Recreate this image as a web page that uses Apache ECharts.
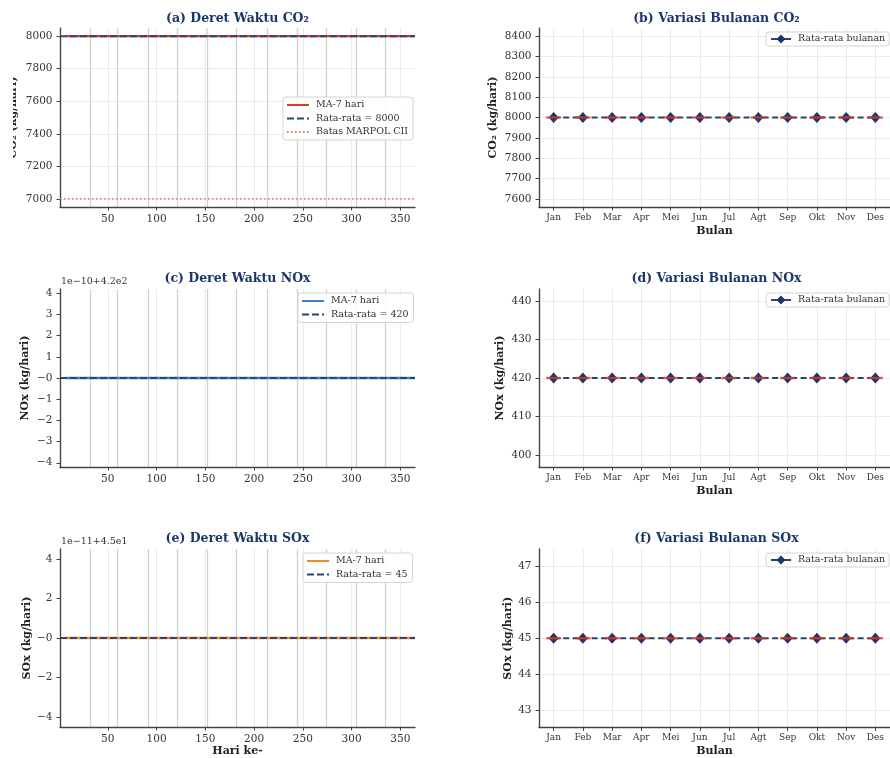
<!DOCTYPE html>
<html>
<head>
<meta charset="utf-8">
<script src="https://cdn.jsdelivr.net/npm/echarts@6/dist/echarts.min.js"></script>
<style>
  html, body { margin: 0; padding: 0; background: #ffffff; }
  #chart { width: 890px; height: 758px; }
</style>
</head>
<body>
<div id="chart"></div>
<script>
// ---- data ----
const dayRange = [1, 365];                 // observation period (day of year)
const maDays = [7, 365];                   // first / last day with a full 7-day window
const co2MA = [8000, 8000];
const noxMA = [420, 420];
const soxMA = [45, 45];
const co2Mean = 8000;
const noxMean = 420;
const soxMean = 45;
const marpolLimit = 7000;
// first day of each month (Feb..Dec)
const monthStarts = [32, 60, 91, 121, 152, 182, 213, 244, 274, 305, 335];

const months = ['Jan', 'Feb', 'Mar', 'Apr', 'Mei', 'Jun', 'Jul', 'Agt', 'Sep', 'Okt', 'Nov', 'Des'];
const co2Monthly = [8000, 8000, 8000, 8000, 8000, 8000, 8000, 8000, 8000, 8000, 8000, 8000];
const noxMonthly = [420, 420, 420, 420, 420, 420, 420, 420, 420, 420, 420, 420];
const soxMonthly = [45, 45, 45, 45, 45, 45, 45, 45, 45, 45, 45, 45];

// tick labels
const dayTicks = [50, 100, 150, 200, 250, 300, 350];
const co2Ticks = [7000, 7200, 7400, 7600, 7800, 8000];
const noxOffsetTicks = [-4, -3, -2, -1, 0, 1, 2, 3, 4];   // units of 1e-10, offset 4.2e2
const soxOffsetTicks = [-4, -2, 0, 2, 4];                  // units of 1e-11, offset 4.5e1
const co2MonthTicks = [7600, 7700, 7800, 7900, 8000, 8100, 8200, 8300, 8400];
const noxMonthTicks = [400, 410, 420, 430, 440];
const soxMonthTicks = [43, 44, 45, 46, 47];

const noxBase = 420, noxScale = 1e-10;
const soxBase = 45, soxScale = 1e-11;
const noxTicks = noxOffsetTicks.map(k => noxBase + k * noxScale);
const soxTicks = soxOffsetTicks.map(k => soxBase + k * soxScale);

// ---- styles ----
const SERIF = "'DejaVu Serif', 'Liberation Serif', serif";
const NAVY = '#1b3668';
const MEAN = '#2a4475';
const RED = '#da3b2b';
const BLUE = '#3a83c9';
const ORANGE = '#ef8a2a';
const AXIS = '#444444';
const GRID = '#ebebeb';
const MONTHLINE = '#cbd6d3';

const pairXY = (xs, ys) => xs.map((x, i) => [x, ys[i]]);
const constLine = (xs, v) => xs.map(x => [x, v]);
const minusFmt = k => (k <= 0 ? '\u2212' + Math.abs(k) : String(k));

const grids = [
  { left: 60, top: 28, width: 355, height: 179 },    // a
  { left: 539, top: 28, width: 355, height: 179 },   // b
  { left: 60, top: 289, width: 355, height: 178 },   // c
  { left: 539, top: 289, width: 355, height: 178 },  // d
  { left: 60, top: 549, width: 355, height: 180 },   // e
  { left: 539, top: 549, width: 355, height: 180 }   // f
];

const axisLineStyle = { show: true, lineStyle: { color: AXIS, width: 1.4 } };
const tickStyle = (vals) => ({ show: true, length: 3.5, lineStyle: { color: AXIS, width: 1 }, customValues: vals });

function dayAxis(gi, name) {
  return {
    type: 'value', gridIndex: gi, min: dayRange[0], max: dayRange[1],
    axisLine: axisLineStyle, axisTick: tickStyle(dayTicks),
    axisLabel: { customValues: dayTicks, fontFamily: SERIF, fontSize: 10.5, color: '#333', margin: 7 },
    splitLine: { show: false },
    name: name || '', nameLocation: 'middle', nameGap: 19,
    nameTextStyle: { fontFamily: SERIF, fontWeight: 'bold', fontSize: 11, color: '#222' }
  };
}
function monthAxis(gi) {
  return {
    type: 'category', gridIndex: gi, data: months, boundaryGap: true,
    axisLine: axisLineStyle,
    axisTick: { show: true, alignWithLabel: true, length: 3.5, lineStyle: { color: AXIS, width: 1 } },
    axisLabel: { fontFamily: SERIF, fontSize: 9, color: '#333', margin: 6, interval: 0 },
    splitLine: { show: false },
    name: 'Bulan', nameLocation: 'middle', nameGap: 18.5,
    nameTextStyle: { fontFamily: SERIF, fontWeight: 'bold', fontSize: 11, color: '#222' }
  };
}
function valAxis(gi, min, max, ticks, name, gap, fmt) {
  return {
    type: 'value', gridIndex: gi, min: min, max: max, scale: true,
    axisLine: axisLineStyle, axisTick: tickStyle(ticks),
    axisLabel: { customValues: ticks, fontFamily: SERIF, fontSize: 10.5, color: '#333', margin: 7.5, formatter: fmt },
    splitLine: { show: false },
    name: name, nameLocation: 'middle', nameGap: gap,
    nameTextStyle: { fontFamily: SERIF, fontWeight: 'bold', fontSize: 11, color: '#222' }
  };
}

const xAxes = [
  dayAxis(0), monthAxis(1), dayAxis(2), monthAxis(3), dayAxis(4, 'Hari ke-'), monthAxis(5)
];
const yAxes = [
  valAxis(0, 6950, 8050, co2Ticks, 'CO\u2082 (kg/hari)', 41, v => String(v)),
  valAxis(1, 7560, 8440, co2MonthTicks, 'CO\u2082 (kg/hari)', 40.5, v => String(v)),
  valAxis(2, noxBase - 4.2 * noxScale, noxBase + 4.2 * noxScale, noxTicks, 'NOx (kg/hari)', 29.5,
    v => minusFmt(Math.round((v - noxBase) / noxScale))),
  valAxis(3, 396.9, 443.1, noxMonthTicks, 'NOx (kg/hari)', 33.5, v => String(v)),
  valAxis(4, soxBase - 4.5 * soxScale, soxBase + 4.5 * soxScale, soxTicks, 'SOx (kg/hari)', 27.5,
    v => minusFmt(Math.round((v - soxBase) / soxScale))),
  valAxis(5, 42.525, 47.475, soxMonthTicks, 'SOx (kg/hari)', 25.5, v => String(v))
];

// background grid lines for one panel
function gridSeries(gi, yTicks, xVals, withMonths) {
  const lines = [];
  yTicks.forEach(v => lines.push({ yAxis: v, lineStyle: { color: GRID, width: 1, type: 'solid' } }));
  xVals.forEach(v => lines.push({ xAxis: v, lineStyle: { color: GRID, width: 1, type: 'solid' } }));
  if (withMonths) {
    monthStarts.forEach(v => lines.push({ xAxis: v, lineStyle: { color: MONTHLINE, width: 1.3, type: 'solid' } }));
  }
  return {
    type: 'line', xAxisIndex: gi, yAxisIndex: gi, data: [], silent: true, z: 0,
    markLine: { silent: true, symbol: 'none', z: 0, label: { show: false }, animation: false, data: lines }
  };
}

function maSeries(gi, name, ma, color) {
  return {
    type: 'line', name: name, xAxisIndex: gi, yAxisIndex: gi, data: pairXY(maDays, ma),
    symbol: 'none', z: 3, lineStyle: { color: color, width: 2.4 }, itemStyle: { color: color }
  };
}
function meanSeries(gi, name, mean) {
  return {
    type: 'line', name: name, xAxisIndex: gi, yAxisIndex: gi, data: constLine(dayRange, mean),
    symbol: 'none', z: 4, lineStyle: { color: MEAN, width: 2, type: [7, 3] }, itemStyle: { color: MEAN }
  };
}
function monthlySeries(gi, name, vals) {
  return [
    {
      type: 'line', name: name, xAxisIndex: gi, yAxisIndex: gi, data: vals,
      symbol: 'diamond', symbolSize: [10, 11], showSymbol: true, z: 4,
      lineStyle: { color: MEAN, width: 2, type: [6, 3.5] }, itemStyle: { color: NAVY }
    },
    {
      // zero-spread error caps
      type: 'scatter', xAxisIndex: gi, yAxisIndex: gi, data: vals, symbol: 'rect',
      symbolSize: [15, 2.4], z: 5, itemStyle: { color: RED }, silent: true
    }
  ];
}

const series = [
  gridSeries(0, co2Ticks, dayTicks, true),
  gridSeries(1, co2MonthTicks, months, false),
  gridSeries(2, noxTicks, dayTicks, true),
  gridSeries(3, noxMonthTicks, months, false),
  gridSeries(4, soxTicks, dayTicks, true),
  gridSeries(5, soxMonthTicks, months, false),

  maSeries(0, 'ma_co2', co2MA, RED),
  meanSeries(0, 'mean_co2', co2Mean),
  {
    type: 'line', name: 'marpol', xAxisIndex: 0, yAxisIndex: 0, data: constLine(dayRange, marpolLimit),
    symbol: 'none', z: 3, lineStyle: { color: '#e9776b', width: 1.5, type: [1.6, 2.4] }, itemStyle: { color: '#e9776b' }
  },
  maSeries(2, 'ma_nox', noxMA, BLUE),
  meanSeries(2, 'mean_nox', noxMean),
  maSeries(4, 'ma_sox', soxMA, ORANGE),
  meanSeries(4, 'mean_sox', soxMean),
  ...monthlySeries(1, 'mon_co2', co2Monthly),
  ...monthlySeries(3, 'mon_nox', noxMonthly),
  ...monthlySeries(5, 'mon_sox', soxMonthly)
];

const legendText = {
  ma_co2: 'MA-7 hari', mean_co2: 'Rata-rata = ' + co2Mean, marpol: 'Batas MARPOL CII',
  ma_nox: 'MA-7 hari', mean_nox: 'Rata-rata = ' + noxMean,
  ma_sox: 'MA-7 hari', mean_sox: 'Rata-rata = ' + soxMean,
  mon_co2: 'Rata-rata bulanan', mon_nox: 'Rata-rata bulanan', mon_sox: 'Rata-rata bulanan'
};

function legendBox(left, top, names, monthly) {
  return {
    data: names, left: left, top: top, orient: 'vertical',
    itemWidth: monthly ? 20 : 22, itemHeight: monthly ? 11 : 8, itemGap: 3.5,
    padding: monthly ? [2, 4, 2, 4] : [3, 5, 3, 3],
    borderColor: '#d4d4d4', borderWidth: 1, borderRadius: 3,
    backgroundColor: 'rgba(255,255,255,0.85)',
    selectedMode: false,
    textStyle: { fontFamily: SERIF, fontSize: 9.5, color: '#333', padding: [0, 0, 0, 2] },
    itemStyle: monthly ? {} : { opacity: 0 },
    lineStyle: monthly ? { type: 'solid' } : {},
    formatter: n => legendText[n]
  };
}

const legends = [
  legendBox(283, 97, ['ma_co2', 'mean_co2', 'marpol'], false),
  legendBox(298, 293, ['ma_nox', 'mean_nox'], false),
  legendBox(303, 553, ['ma_sox', 'mean_sox'], false),
  legendBox(766, 32, ['mon_co2'], true),
  legendBox(766, 293, ['mon_nox'], true),
  legendBox(766, 553, ['mon_sox'], true)
];

const titleFont = 'bold 12.5px ' + SERIF;
const titles = [
  ['(a) Deret Waktu CO\u2082', 237.5, 19],
  ['(b) Variasi Bulanan CO\u2082', 716.5, 19],
  ['(c) Deret Waktu NOx', 237.5, 279],
  ['(d) Variasi Bulanan NOx', 716.5, 279],
  ['(e) Deret Waktu SOx', 237.5, 539],
  ['(f) Variasi Bulanan SOx', 716.5, 539]
];
const graphics = titles.map(t => ({
  type: 'text', x: t[1], y: t[2], silent: true,
  style: { text: t[0], font: titleFont, fill: NAVY, align: 'center', verticalAlign: 'middle' }
}));
// axis offset annotations
graphics.push({
  type: 'text', x: 61, y: 282, silent: true,
  style: { text: '1e\u221210+4.2e2', font: '9.5px ' + SERIF, fill: '#333', align: 'left', verticalAlign: 'middle' }
});
graphics.push({
  type: 'text', x: 61, y: 542, silent: true,
  style: { text: '1e\u221211+4.5e1', font: '9.5px ' + SERIF, fill: '#333', align: 'left', verticalAlign: 'middle' }
});
// page margin: the first y-axis title runs past the left edge of the figure
graphics.push({
  type: 'rect', left: 0, top: 0, z: 100, silent: true,
  shape: { x: 0, y: 0, width: 13, height: 260 },
  style: { fill: '#ffffff' }
});

const chart = echarts.init(document.getElementById('chart'), null, { renderer: 'canvas' });
chart.setOption({
  backgroundColor: '#ffffff',
  animation: false,
  grid: grids,
  xAxis: xAxes,
  yAxis: yAxes,
  legend: legends,
  graphic: graphics,
  series: series
});
</script>
</body>
</html>
